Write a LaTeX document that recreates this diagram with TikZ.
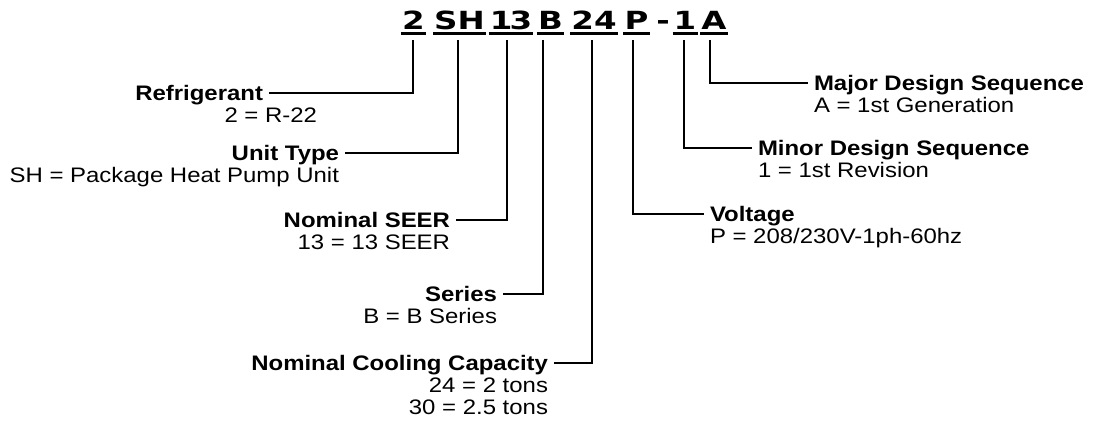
\documentclass[tikz,border=0pt]{standalone}
\usepackage{fontspec}
\setmainfont{Liberation Sans}[FakeStretch=1.14]
\newfontfamily\codefont{DejaVu Sans}[FakeStretch=1.3]
\usetikzlibrary{positioning}

\tikzset{
  lbl/.style={inner sep=0pt, outer xsep=6pt, outer ysep=0pt, text height=15pt, text depth=0pt, font=\fontsize{21pt}{22pt}\selectfont},
  ttl/.style={lbl, font=\fontsize{21pt}{22pt}\selectfont\bfseries},
  codechar/.style={inner xsep=1pt, inner ysep=0pt, text depth=0pt, anchor=base, font=\codefont\bfseries\fontsize{25pt}{26pt}\selectfont},
  uline/.style={line width=2.5pt},
  leader/.style={line width=1.6pt}
}

\begin{document}
\begin{tikzpicture}[x=1pt,y=-1pt]
\useasboundingbox (0,0) rectangle (1094,422);

% model number
\foreach \x/\t/\n in {413.5/2/c2, 459.5/SH/cSH, 511/1\kern-3pt3/c13, 550.5/B/cB, 594/24/c24, 636.5/P/cP, 663/-/cdash, 685/1/c1, 714/A/cA}
  \node[codechar] (\n) at (\x,30) {\t};
\foreach \n in {c2,cSH,c13,cB,c24,cP,c1,cA}
  \draw[uline] ([yshift=-3.5pt]\n.south west) -- ([yshift=-3.5pt]\n.south east);

% tick tops
\coordinate (t2) at (413,40);
\coordinate (tSH) at (458,40);
\coordinate (t13) at (507,40);
\coordinate (tB) at (543,40);
\coordinate (t24) at (592,40);
\coordinate (tP) at (633,40);
\coordinate (t1) at (684,40);
\coordinate (tA) at (710,40);

% left side
\node[ttl, anchor=east] (refT) at (269,93) {Refrigerant};
\node[lbl, below left=7pt and -54pt of refT.south east] (refV) {2 = R-22};

\node[ttl, anchor=east] (unitT) at (345,153) {Unit Type};
\node[lbl, below left=7pt and 0pt of unitT.south east] (unitV) {SH = Package Heat Pump Unit};

\node[ttl, anchor=east] (seerT) at (456,220) {Nominal SEER};
\node[lbl, below left=7pt and 0pt of seerT.south east] (seerV) {13 = 13 SEER};

\node[ttl, anchor=east] (serT) at (503,294) {Series};
\node[lbl, below left=7pt and 0pt of serT.south east] (serV) {B = B Series};

\node[ttl, anchor=east] (capT) at (554,363) {Nominal Cooling Capacity};
\node[lbl, below left=7pt and 0pt of capT.south east] (capV1) {24 = 2 tons};
\node[lbl, below left=7pt and 0pt of capV1.south east] (capV2) {30 = 2.5 tons};

% right side
\node[ttl, anchor=west] (majT) at (808,83) {Major Design Sequence};
\node[lbl, below right=7pt and 0pt of majT.south west] (majV) {A = 1st Generation};

\node[ttl, anchor=west] (minT) at (752,148) {Minor Design Sequence};
\node[lbl, below right=7pt and 0pt of minT.south west] (minV) {1 = 1st Revision};

\node[ttl, anchor=west] (voltT) at (704,214) {Voltage};
\node[lbl, below right=7pt and 0pt of voltT.south west] (voltV) {P = 208/230V-1ph-60hz};

% leaders
\draw[leader] (t2) |- (refT);
\draw[leader] (tSH) |- (unitT);
\draw[leader] (t13) |- (seerT);
\draw[leader] (tB) |- (serT);
\draw[leader] (t24) |- (capT);
\draw[leader] (tP) |- (voltT);
\draw[leader] (t1) |- (minT);
\draw[leader] (tA) |- (majT);
\end{tikzpicture}
\end{document}
